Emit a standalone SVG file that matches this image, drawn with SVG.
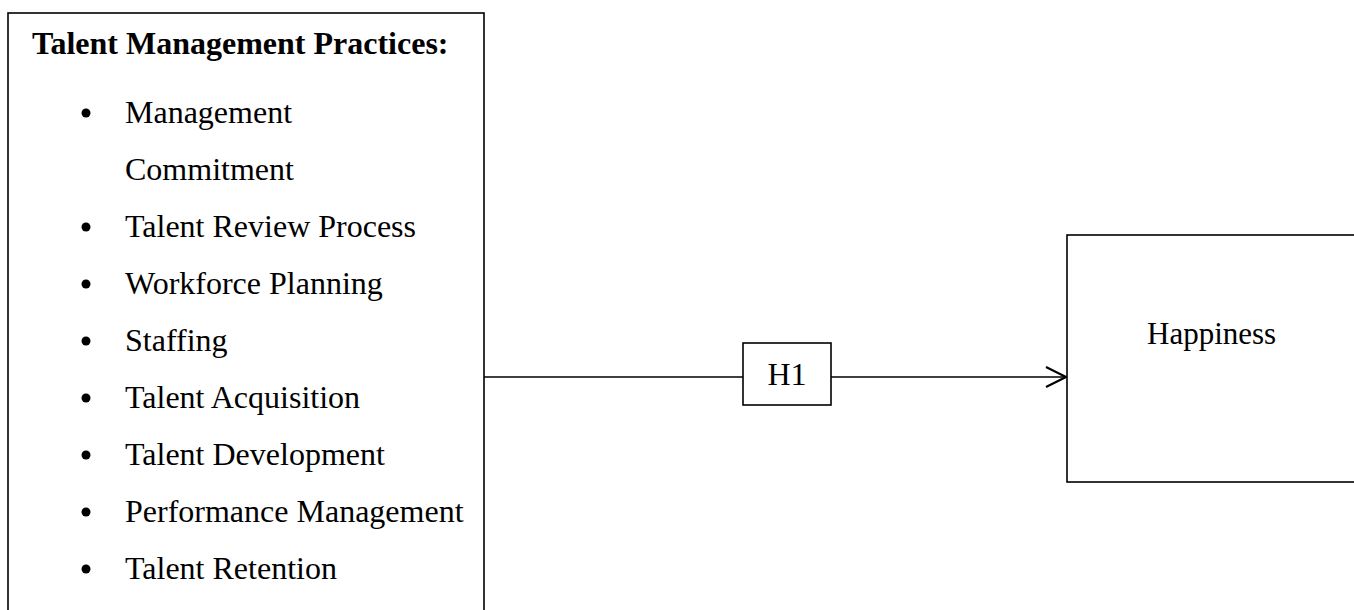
<svg xmlns="http://www.w3.org/2000/svg" width="1354" height="610" viewBox="0 0 1354 610">
  <style>
    .box { fill: #ffffff; stroke: #000000; stroke-width: 1.6; }
    .txt { font-family: "Liberation Serif", "Times New Roman", serif; font-size: 32px; fill: #000000; }
    .title { font-weight: bold; }
    .link { stroke: #000000; stroke-width: 1.6; fill: none; }
  </style>
  <defs>
    <marker id="open-arrow" markerWidth="24" markerHeight="24" refX="22" refY="12" orient="auto" markerUnits="userSpaceOnUse">
      <path d="M2,2 L22,12 L2,22" fill="none" stroke="#000000" stroke-width="2.2"/>
    </marker>
  </defs>
  <rect width="1354" height="610" fill="#ffffff"/>

  <!-- connectors -->
  <g id="connectors">
    <line class="link" x1="484" y1="377" x2="743" y2="377"/>
    <line class="link" x1="831" y1="377" x2="1066" y2="377" marker-end="url(#open-arrow)"/>
  </g>

  <!-- practices list -->
  <g id="talent-management-practices">
    <rect class="box" x="8" y="13" width="476" height="620"/>
    <text class="txt title" x="32" y="54">Talent Management Practices:</text>
    <g class="txt">
      <circle cx="86" cy="113" r="4.5"/>
      <text x="125" y="123">Management</text>
      <text x="125" y="180">Commitment</text>
      <circle cx="86" cy="227" r="4.5"/>
      <text x="125" y="237">Talent Review Process</text>
      <circle cx="86" cy="284" r="4.5"/>
      <text x="125" y="294">Workforce Planning</text>
      <circle cx="86" cy="341" r="4.5"/>
      <text x="125" y="351">Staffing</text>
      <circle cx="86" cy="398" r="4.5"/>
      <text x="125" y="408">Talent Acquisition</text>
      <circle cx="86" cy="455" r="4.5"/>
      <text x="125" y="465">Talent Development</text>
      <circle cx="86" cy="512" r="4.5"/>
      <text x="125" y="522">Performance Management</text>
      <circle cx="86" cy="569" r="4.5"/>
      <text x="125" y="579">Talent Retention</text>
    </g>
  </g>

  <!-- hypothesis label -->
  <g id="h1">
    <rect class="box" x="743" y="343" width="88" height="62"/>
    <text class="txt" x="787" y="385" text-anchor="middle">H1</text>
  </g>

  <!-- outcome -->
  <g id="happiness">
    <rect class="box" x="1067" y="235" width="300" height="247"/>
    <text class="txt" x="1147" y="344" style="font-size:31px">Happiness</text>
  </g>
</svg>
